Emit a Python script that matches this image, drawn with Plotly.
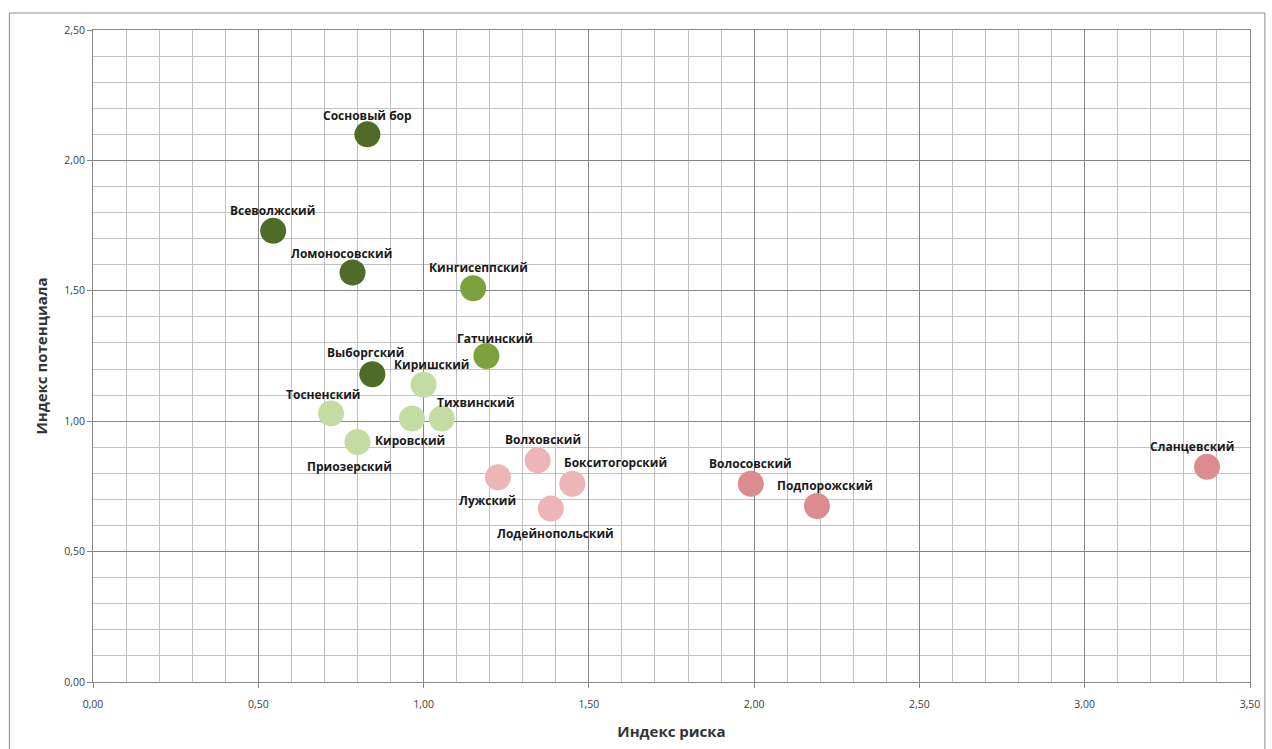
import plotly.graph_objects as go

# Districts: risk index (x) vs potential index (y)
districts = [
    "Сосновый бор", "Всеволжский", "Ломоносовский", "Кингисеппский",
    "Гатчинский", "Выборгский", "Киришский", "Тосненский",
    "Приозерский", "Кировский", "Тихвинский", "Волховский",
    "Лужский", "Бокситогорский", "Лодейнопольский", "Волосовский",
    "Подпорожский", "Сланцевский",
]
risk_index = [0.83, 0.545, 0.785, 1.15, 1.19, 0.845, 1.00, 0.72,
              0.80, 0.965, 1.055, 1.345, 1.225, 1.45, 1.385, 1.99,
              2.19, 3.37]
potential_index = [2.10, 1.73, 1.57, 1.51, 1.25, 1.18, 1.14, 1.03,
                   0.92, 1.01, 1.01, 0.85, 0.785, 0.76, 0.665, 0.76,
                   0.675, 0.825]
group = ["dark", "dark", "dark", "mid", "mid", "dark", "light", "light",
         "light", "light", "light", "pink", "pink", "pink", "pink", "red",
         "red", "red"]

group_colors = {
    "dark": "#4f6b27",
    "mid": "#7ca23d",
    "light": "#c4dba3",
    "pink": "#ecb5b8",
    "red": "#dc8b8f",
}

# label offsets in pixels (dx, dy) relative to each marker
label_offsets = {
    "Сосновый бор": (0, -19), "Всеволжский": (-1, -20),
    "Ломоносовский": (-11, -19), "Кингисеппский": (5, -21),
    "Гатчинский": (9, -18), "Выборгский": (-7, -22),
    "Киришский": (8, -20), "Тосненский": (-8, -19),
    "Приозерский": (-8, 24), "Кировский": (-2, 22),
    "Тихвинский": (34, -16), "Волховский": (5, -21),
    "Лужский": (-10, 23), "Бокситогорский": (43, -21),
    "Лодейнопольский": (5, 25), "Волосовский": (0, -20),
    "Подпорожский": (8, -20), "Сланцевский": (-15, -20),
}

fig = go.Figure()
fig.add_trace(go.Scatter(
    x=risk_index, y=potential_index, mode="markers",
    marker=dict(size=26, color=[group_colors[g] for g in group],
                line=dict(width=0)),
    hovertext=districts, hoverinfo="text+x+y", showlegend=False,
))

for name, xv, yv in zip(districts, risk_index, potential_index):
    dx, dy = label_offsets[name]
    fig.add_annotation(
        x=xv, y=yv, text=name, showarrow=False,
        xshift=dx, yshift=-dy,
        font=dict(family="Open Sans, DejaVu Sans", size=12, color="#1a1a1a",
                  weight="bold"),
    )

tick_vals_x = [0, 0.5, 1.0, 1.5, 2.0, 2.5, 3.0, 3.5]
tick_text_x = ["0,00", "0,50", "1,00", "1,50", "2,00", "2,50", "3,00", "3,50"]
tick_vals_y = [0, 0.5, 1.0, 1.5, 2.0, 2.5]
tick_text_y = ["0,00", "0,50", "1,00", "1,50", "2,00", "2,50"]

axis_common = dict(
    showgrid=True, gridcolor="#858585", gridwidth=1,
    minor=dict(dtick=0.1, showgrid=True, gridcolor="#c2c2c2", gridwidth=1),
    showline=True, linecolor="#858585", linewidth=1, mirror=True,
    ticks="outside", ticklen=5, tickcolor="#858585",
    zeroline=False,
    tickfont=dict(family="Open Sans, DejaVu Sans", size=10.5, color="#404040"),
)

fig.update_xaxes(
    range=[0, 3.5], tickvals=tick_vals_x, ticktext=tick_text_x,
    ticklabelstandoff=7,
    title=dict(text="Индекс риска", standoff=16,
               font=dict(family="Open Sans, DejaVu Sans", size=15,
                         color="#333333", weight="bold")),
    **axis_common,
)
fig.update_yaxes(
    range=[0, 2.5], tickvals=tick_vals_y, ticktext=tick_text_y,
    title=dict(text="Индекс потенциала", standoff=12,
               font=dict(family="Open Sans, DejaVu Sans", size=15,
                         color="#333333", weight="bold")),
    **axis_common,
)

# outer chart frame
fig.add_shape(type="rect", xref="paper", yref="paper",
              x0=(9 - 93) / 1162, x1=(1270 - 93) / 1162,
              y0=(682 - 760) / 652, y1=(682 - 13) / 652,
              line=dict(color="#8c8c8c", width=1), layer="below")

fig.update_layout(
    width=1272, height=749,
    margin=dict(l=93, r=17, t=30, b=67),
    plot_bgcolor="white", paper_bgcolor="white",
)

fig.write_html("out.html")
